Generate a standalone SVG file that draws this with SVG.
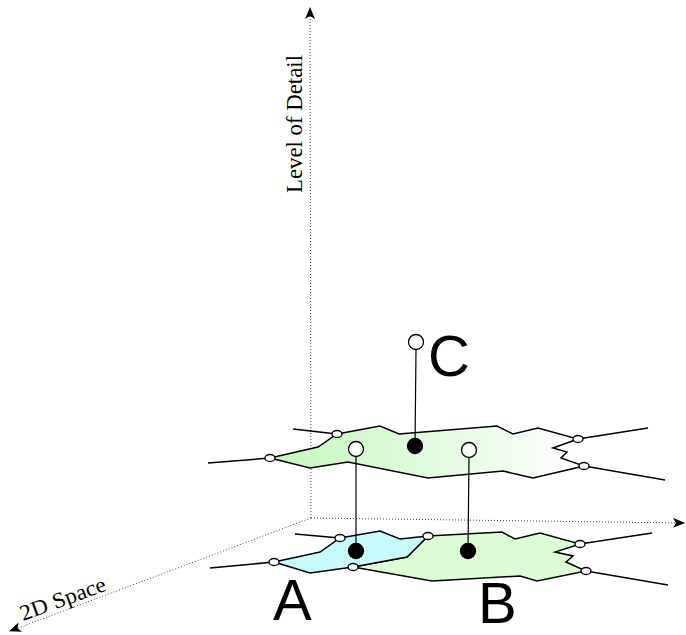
<svg xmlns="http://www.w3.org/2000/svg" width="686" height="635" viewBox="0 0 686 635">
<defs>
<linearGradient id="gUp" gradientUnits="userSpaceOnUse" x1="270" y1="0" x2="584" y2="0">
<stop offset="0" stop-color="#c4f7bd"/>
<stop offset="1" stop-color="#ffffff"/>
</linearGradient>
<marker id="arr" viewBox="0 0 12 10" refX="11" refY="5" markerWidth="12" markerHeight="10" markerUnits="userSpaceOnUse" orient="auto">
<path d="M0,0 L12,5 L0,10 L3,5 Z" fill="#000"/>
</marker>
</defs>
<style>
.axis{fill:none;stroke:#444;stroke-width:1;stroke-dasharray:1,2}
.edge{fill:none;stroke:#000;stroke-width:1.5}
.reg{stroke:#000;stroke-width:1.5;stroke-linejoin:miter}
.v{fill:#fff;stroke:#000;stroke-width:1.3}
.pt{stroke:#000;stroke-width:1.3}
.lbl{font-family:"Liberation Sans",Arial,sans-serif;font-size:58px;fill:#000}
.ax{font-family:"Liberation Serif","Times New Roman",serif;fill:#000}
.link{stroke:#000;stroke-width:1.2;fill:none}
</style>
<g id="axes">
<line class="axis" x1="311" y1="518" x2="310" y2="8" marker-end="url(#arr)"/>
<line class="axis" x1="311" y1="518" x2="684" y2="523" marker-end="url(#arr)"/>
<line class="axis" x1="311" y1="518" x2="10" y2="631" marker-end="url(#arr)"/>
<text class="ax" font-size="23" transform="translate(302,193) rotate(-90)" textLength="138" lengthAdjust="spacingAndGlyphs">Level of Detail</text>
<text class="ax" font-size="22" transform="translate(23,621) rotate(-20)" textLength="90" lengthAdjust="spacingAndGlyphs">2D Space</text>
</g>
<g id="upper-layer">
<line class="edge" x1="208" y1="463" x2="270" y2="458"/>
<line class="edge" x1="293" y1="429" x2="337" y2="434"/>
<line class="edge" x1="578" y1="439" x2="648" y2="428"/>
<line class="edge" x1="584" y1="466" x2="665" y2="480"/>
<polygon class="reg" fill="url(#gUp)" points="270,458 318,447 337,434 380,426 399,434 497,426 513,434 538,428 578,439 553,448 567,452 561,458 584,466 533,478 503,471 428,478 348,462 310,468"/>
<ellipse class="v" cx="270" cy="458" rx="5" ry="3.5"/>
<ellipse class="v" cx="337" cy="434" rx="5" ry="3.5"/>
<ellipse class="v" cx="578" cy="439" rx="5" ry="3.5"/>
<ellipse class="v" cx="584" cy="466" rx="5" ry="3.5"/>
</g>
<g id="lower-layer">
<line class="edge" x1="210" y1="568" x2="274" y2="562"/>
<line class="edge" x1="295" y1="534" x2="340" y2="538"/>
<line class="edge" x1="580" y1="544" x2="652" y2="533"/>
<line class="edge" x1="586" y1="571" x2="668" y2="585"/>
<polygon id="regionB" class="reg" fill="#dcfdd6" points="428,536 502,532 515,539 540,533 580,544 555,552 573,556 566,562 586,571 537,581 520,576 432,581 353,567 407,557"/>
<polygon id="regionA" class="reg" fill="#c8fcfc" points="274,562 320,552 340,538 380,531 400,539 428,536 407,557 353,567 310,573"/>
<ellipse class="v" cx="274" cy="562" rx="5" ry="3.5"/>
<ellipse class="v" cx="340" cy="538" rx="5" ry="3.5"/>
<ellipse class="v" cx="428" cy="536" rx="5" ry="3.5"/>
<ellipse class="v" cx="353" cy="567" rx="5" ry="3.5"/>
<ellipse class="v" cx="580" cy="544" rx="5" ry="3.5"/>
<ellipse class="v" cx="586" cy="571" rx="5" ry="3.5"/>
</g>
<g id="connectors">
<line class="link" x1="416" y1="350" x2="415" y2="446"/>
<line class="link" x1="356" y1="456" x2="356" y2="551"/>
<line class="link" x1="469" y1="457" x2="468" y2="551"/>
</g>
<g id="node-C">
<circle class="v" cx="416" cy="342" r="7.5"/>
<text class="lbl" x="428" y="376">C</text>
</g>
<g id="node-C-upper">
<circle class="pt" cx="415" cy="446" r="7.5" fill="#000"/>
</g>
<g id="node-A-upper">
<circle class="v" cx="356" cy="449" r="7.5"/>
</g>
<g id="node-B-upper">
<circle class="v" cx="469" cy="450" r="7.5"/>
</g>
<g id="node-A">
<circle class="pt" cx="356" cy="551" r="7.5" fill="#000"/>
<text class="lbl" x="273" y="620">A</text>
</g>
<g id="node-B">
<circle class="pt" cx="468" cy="551" r="7.5" fill="#000"/>
<text class="lbl" x="478" y="623">B</text>
</g>
</svg>
